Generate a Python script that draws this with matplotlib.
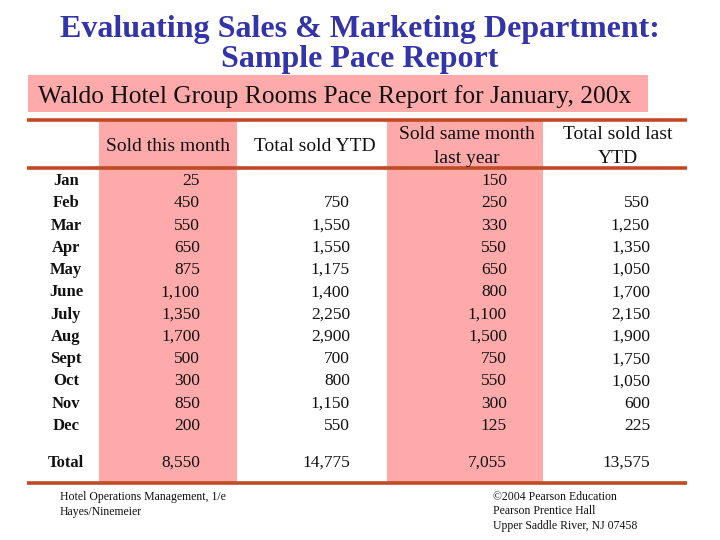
import matplotlib
matplotlib.use("Agg")
import matplotlib.pyplot as plt
from matplotlib.patches import Rectangle

# ---- data ----
title_lines = ["Evaluating Sales & Marketing Department:", "Sample Pace Report"]
subtitle = "Waldo Hotel Group Rooms Pace Report for January, 200x"
col_headers = ["Sold this month", "Total sold YTD", "Sold same month\nlast year", "Total sold last\nYTD"]
months = ["Jan", "Feb", "Mar", "Apr", "May", "June", "July", "Aug", "Sept", "Oct", "Nov", "Dec"]
sold_this_month = [25, 450, 550, 650, 875, 1100, 1350, 1700, 500, 300, 850, 200]
total_sold_ytd = [None, 750, 1550, 1550, 1175, 1400, 2250, 2900, 700, 800, 1150, 550]
sold_same_month_ly = [150, 250, 330, 550, 650, 800, 1100, 1500, 750, 550, 300, 125]
total_sold_last_ytd = [None, 550, 1250, 1350, 1050, 1700, 2150, 1900, 1750, 1050, 600, 225]
totals = [8550, 14775, 7055, 13575]
total_label = "Total"
footer_left = ["Hotel Operations Management, 1/e", "Hayes/Ninemeier"]
footer_right = ["\u00a92004 Pearson Education", "Pearson Prentice Hall", "Upper Saddle River, NJ 07458"]

# ---- style / layout ----
SERIF = ["Liberation Serif", "DejaVu Serif"]
PINK = "#FFAAAA"
RULE = "#C04A22"
BLUE = "#3333AA"
TXT = "#111111"

fig = plt.figure(figsize=(7.2, 5.4), dpi=100)
ax = fig.add_axes([0, 0, 1, 1])
ax.set_xlim(0, 720)
ax.set_ylim(540, 0)
ax.axis("off")

# title
ax.text(360, 37, title_lines[0], ha="center", va="baseline", fontsize=23,
        fontweight="bold", color=BLUE, family=SERIF)
ax.text(360, 67, title_lines[1], ha="center", va="baseline", fontsize=23,
        fontweight="bold", color=BLUE, family=SERIF)

# subtitle box
ax.add_patch(Rectangle((28, 75), 620, 37, facecolor=PINK, edgecolor="none"))
ax.text(335, 103, subtitle, ha="center", va="baseline", fontsize=18.4,
        color=TXT, family=SERIF)

# pink column bands
ax.add_patch(Rectangle((99, 120), 138, 363, facecolor=PINK, edgecolor="none"))
ax.add_patch(Rectangle((387, 120), 156, 363, facecolor=PINK, edgecolor="none"))

# rules
for y in (120, 168, 483):
    ax.plot([27, 687], [y, y], color=RULE, lw=2.6, solid_capstyle="butt")

# headers
hdr_x = [168, 315, 467, 618]
for x, h in zip(hdr_x, col_headers):
    lines = h.split("\n")
    if len(lines) == 1:
        ax.text(x, 151, lines[0], ha="center", va="baseline", fontsize=14, color=TXT, family=SERIF)
    else:
        ax.text(x, 139, lines[0], ha="center", va="baseline", fontsize=14, color=TXT, family=SERIF)
        ax.text(x, 163, lines[1], ha="center", va="baseline", fontsize=14, color=TXT, family=SERIF)

# rows
row0, step = 185, 22.27
label_x = 66
right_x = [200, 350, 507, 650]
columns = [sold_this_month, total_sold_ytd, sold_same_month_ly, total_sold_last_ytd]
for i, m in enumerate(months):
    y = row0 + i * step
    ax.text(label_x, y, m, ha="center", va="baseline", fontsize=12,
            fontweight="bold", color=TXT, family=SERIF)
    for x, col in zip(right_x, columns):
        v = col[i]
        if v is not None:
            ax.text(x, y, f"{v:,}", ha="right", va="baseline", fontsize=12.5,
                    color=TXT, family=SERIF)

ty = 467
ax.text(label_x, ty, total_label, ha="center", va="baseline", fontsize=12,
        fontweight="bold", color=TXT, family=SERIF)
for x, v in zip(right_x, totals):
    ax.text(x, ty, f"{v:,}", ha="right", va="baseline", fontsize=12.5, color=TXT, family=SERIF)

# footers
for i, s in enumerate(footer_left):
    ax.text(60, 500 + i * 15, s, ha="left", va="baseline", fontsize=8.5, color=TXT, family=SERIF)
for i, s in enumerate(footer_right):
    ax.text(493, 500 + i * 14.5, s, ha="left", va="baseline", fontsize=8.5, color=TXT, family=SERIF)

fig.savefig("out.png", dpi=100)
